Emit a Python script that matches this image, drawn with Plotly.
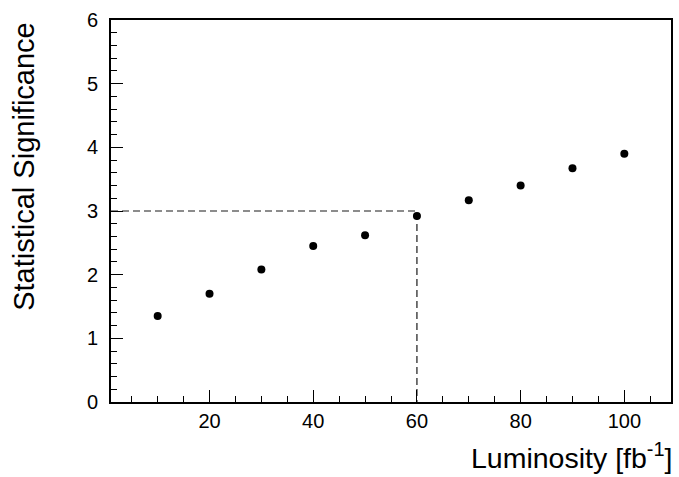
import plotly.graph_objects as go

# Expected statistical significance versus integrated luminosity
luminosity = [10, 20, 30, 40, 50, 60, 70, 80, 90, 100]
significance = [1.35, 1.70, 2.08, 2.45, 2.62, 2.92, 3.17, 3.40, 3.67, 3.90]

# 3-sigma reference and the luminosity where it is reached
sigma_threshold = 3
lumi_threshold = 60

x_range = [1, 109]
y_range = [0, 6]
x_ticks = [20, 40, 60, 80, 100]
y_ticks = [0, 1, 2, 3, 4, 5, 6]

FONT = "Liberation Sans, Arial, Helvetica, sans-serif"
W, H = 679, 477
ML, MR, MT, MB = 111, 6, 20, 75
PW, PH = W - ML - MR, H - MT - MB

fig = go.Figure()

# dashed guide lines: horizontal at 3 sigma, vertical down at the crossing luminosity
fig.add_trace(go.Scatter(
    x=[x_range[0], lumi_threshold, lumi_threshold],
    y=[sigma_threshold, sigma_threshold, y_range[0]],
    mode="lines",
    line=dict(color="#1a1a1a", width=1.2, dash="7px,4px"),
    hoverinfo="skip",
    showlegend=False,
))

fig.add_trace(go.Scatter(
    x=luminosity,
    y=significance,
    mode="markers",
    marker=dict(color="black", size=8),
    showlegend=False,
))

axis_common = dict(
    showline=True,
    linecolor="black",
    linewidth=2,
    mirror=True,
    showgrid=False,
    zeroline=False,
    ticks="inside",
    ticklen=12,
    tickwidth=1,
    tickcolor="black",
    tickfont=dict(family=FONT, size=20, color="black"),
)

fig.update_xaxes(
    range=x_range,
    tickvals=x_ticks,
    minor=dict(ticks="inside", ticklen=6, tickwidth=1, tickcolor="black", dtick=5, tick0=0),
    **axis_common,
)
fig.update_yaxes(
    range=y_range,
    tickvals=y_ticks,
    ticklabelstandoff=7,
    minor=dict(ticks="inside", ticklen=6, tickwidth=1, tickcolor="black", dtick=0.2, tick0=0),
    **axis_common,
)

fig.add_annotation(
    text="Luminosity [fb<sup>-1</sup>]",
    xref="paper", yref="paper",
    x=(677 - ML) / PW, y=-(456.4 - (MT + PH)) / PH,
    xanchor="right", yanchor="middle",
    showarrow=False,
    font=dict(family=FONT, size=28.5, color="black"),
)
fig.add_annotation(
    text="Statistical Significance",
    xref="paper", yref="paper",
    x=(23 - ML) / PW, y=1,
    xanchor="center", yanchor="top",
    textangle=-90,
    showarrow=False,
    font=dict(family=FONT, size=29, color="black"),
)

fig.update_layout(
    width=W,
    height=H,
    margin=dict(l=ML, r=MR, t=MT, b=MB),
    plot_bgcolor="white",
    paper_bgcolor="white",
    font=dict(family=FONT, color="black"),
)

fig.write_html("out.html")
